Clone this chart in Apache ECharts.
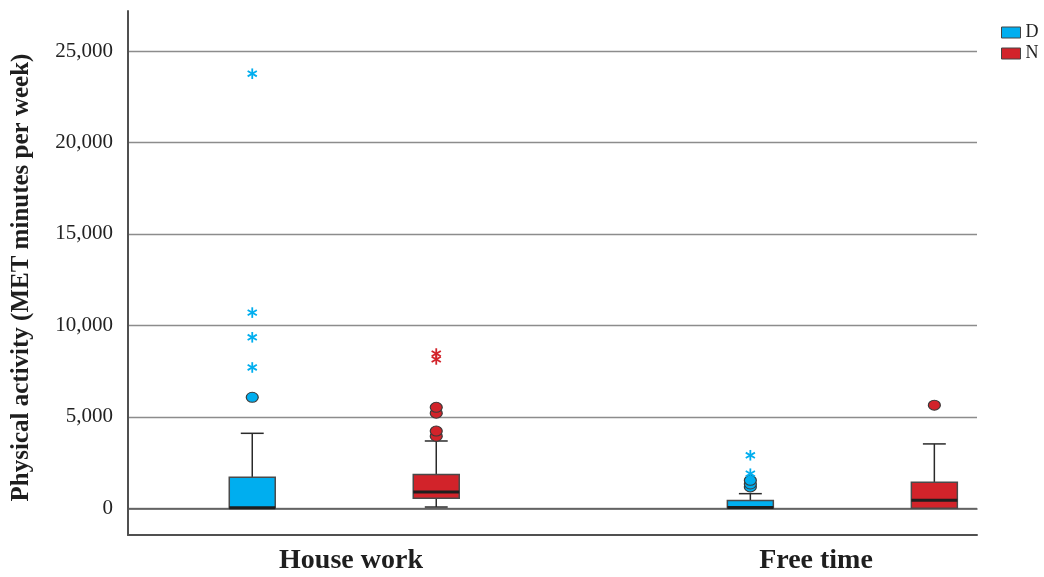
<!DOCTYPE html>
<html>
<head>
<meta charset="utf-8">
<script src="https://cdn.jsdelivr.net/npm/echarts@6/dist/echarts.min.js"></script>
<style>html,body{margin:0;padding:0;background:#fff}#c{width:1044px;height:577px}</style>
</head>
<body>
<div id="c"></div>
<script>
// ---- data ----
const categories = ['House work', 'Free time'];
const groups = ['D', 'N'];
// [min, Q1, median, Q3, max] per category
const dBox = [[0, 0, 30, 1700, 4100], [0, 0, 40, 420, 800]];
const nBox = [[70, 555, 890, 1850, 3680], [0, 0, 440, 1420, 3520]];
// [categoryIndex, value]
const dOutliers = [[0, 6070], [1, 1170], [1, 1330], [1, 1530]];
const dExtremes = [[0, 7700], [0, 9350], [0, 10700], [0, 23760], [1, 1890], [1, 2900]];
const nOutliers = [[0, 3940], [0, 4220], [0, 5200], [0, 5520], [1, 5640]];
const nExtremes = [[0, 8140], [0, 8460]];
const yTicks = [0, 5000, 10000, 15000, 20000, 25000];
const yTitle = 'Physical activity (MET minutes per week)';

// ---- styles ----
const colors = { D: '#00AEEF', N: '#D2232A' };
const SERIF = '"Liberation Serif", "DejaVu Serif", serif';
const OFFSET = 0.1847, BOXW = 0.0923, CAPW = 0.046;
const Y_MIN = -1460, Y_MAX = 27190;

function boxRender(sign, color) {
  return function (params, api) {
    const cat = api.value(0);
    const band = api.size([1, 0])[0];
    const cx = api.coord([cat, 0])[0] + sign * band * OFFSET;
    const bw = band * BOXW, cw = band * CAPW;
    const y = v => api.coord([cat, v])[1];
    const vmin = api.value(1), vq1 = api.value(2), vmed = api.value(3), vq3 = api.value(4), vmax = api.value(5);
    const mn = y(vmin), q1 = y(vq1), md = y(vmed), q3 = y(vq3), mx = y(vmax);
    const ws = { stroke: '#2a2a2a', lineWidth: 1.5 };
    const ch = [];
    ch.push({ type: 'line', shape: { x1: cx, y1: q3, x2: cx, y2: mx }, style: ws });
    ch.push({ type: 'line', shape: { x1: cx - cw / 2, y1: mx, x2: cx + cw / 2, y2: mx }, style: ws });
    if (vmin < vq1) {
      ch.push({ type: 'line', shape: { x1: cx, y1: q1, x2: cx, y2: mn }, style: ws });
      ch.push({ type: 'line', shape: { x1: cx - cw / 2, y1: mn, x2: cx + cw / 2, y2: mn }, style: ws });
    }
    ch.push({ type: 'rect', shape: { x: cx - bw / 2, y: q3, width: bw, height: q1 - q3 },
      style: { fill: color, stroke: '#4a4a4a', lineWidth: 1.5 } });
    ch.push({ type: 'line', shape: { x1: cx - bw / 2, y1: md, x2: cx + bw / 2, y2: md },
      style: { stroke: '#1e1e1e', lineWidth: 3 } });
    return { type: 'group', children: ch };
  };
}
function pointRender(sign, color, kind) {
  return function (params, api) {
    const cat = api.value(0);
    const band = api.size([1, 0])[0];
    const p = api.coord([cat, api.value(1)]);
    const cx = p[0] + sign * band * OFFSET, cy = p[1];
    if (kind === 'circle') {
      return { type: 'circle', x: cx, y: cy, scaleX: 1.2, shape: { cx: 0, cy: 0, r: 5 },
        style: { fill: color, stroke: '#3a3a3a', lineWidth: 1 } };
    }
    const r = 5.3, ch = [];
    [90, 30, -30].forEach(a => {
      const t = a * Math.PI / 180, dx = r * Math.cos(t), dy = r * Math.sin(t);
      ch.push({ type: 'line', shape: { x1: cx - dx, y1: cy - dy, x2: cx + dx, y2: cy + dy },
        style: { stroke: color, lineWidth: 1.8 } });
    });
    return { type: 'group', children: ch };
  };
}

const boxSets = { D: dBox, N: nBox };
const outSets = { D: dOutliers, N: nOutliers };
const extSets = { D: dExtremes, N: nExtremes };
const series = [];
groups.forEach((g, gi) => {
  const sign = gi === 0 ? -1 : 1;
  series.push({ type: 'custom', name: g, xAxisIndex: 2, yAxisIndex: 1, z: 3, clip: false,
    itemStyle: { color: colors[g] }, encode: { x: 0, y: [1, 2, 3, 4, 5] },
    renderItem: boxRender(sign, colors[g]),
    data: boxSets[g].map((b, i) => [i].concat(b)) });
});
groups.forEach((g, gi) => {
  const sign = gi === 0 ? -1 : 1;
  series.push({ type: 'custom', name: g, xAxisIndex: 2, yAxisIndex: 1, z: 4, clip: false,
    itemStyle: { color: colors[g] }, encode: { x: 0, y: 1 },
    renderItem: pointRender(sign, colors[g], 'circle'), data: outSets[g] });
  series.push({ type: 'custom', name: g, xAxisIndex: 2, yAxisIndex: 1, z: 4, clip: false,
    itemStyle: { color: colors[g] }, encode: { x: 0, y: 1 },
    renderItem: pointRender(sign, colors[g], 'star'), data: extSets[g] });
});

const chart = echarts.init(document.getElementById('c'), null, { renderer: 'canvas' });
chart.setOption({
  animation: false,
  backgroundColor: '#fff',
  legend: {
    orient: 'vertical', left: 996, top: 18.5, itemWidth: 19, itemHeight: 11, itemGap: 3,
    data: groups.map(g => ({ name: g, icon: 'rect' })),
    itemStyle: { borderColor: '#444', borderWidth: 1 },
    textStyle: { fontFamily: SERIF, fontSize: 18, color: '#222', lineHeight: 17 }
  },
  grid: [
    { left: 128, top: 11, right: 67, bottom: 42 },
    { left: 344.25, top: 11, right: 201.65, bottom: 42 }
  ],
  xAxis: [
    { type: 'category', gridIndex: 0, data: categories, position: 'bottom',
      axisLine: { onZero: false, lineStyle: { color: '#505050', width: 2 } },
      axisTick: { show: false }, axisLabel: { show: false }, splitLine: { show: false } },
    { type: 'category', gridIndex: 0, data: categories, position: 'bottom',
      axisLine: { onZero: true, lineStyle: { color: '#555', width: 1.5 } },
      axisTick: { show: false }, axisLabel: { show: false }, splitLine: { show: false } },
    { type: 'category', gridIndex: 1, data: categories, position: 'bottom', boundaryGap: false,
      axisLine: { show: false, onZero: false }, axisTick: { show: false }, splitLine: { show: false },
      axisLabel: {
        margin: 12, fontFamily: SERIF, fontWeight: 'bold', fontSize: 28, color: '#1e1e1e',
        formatter: v => '{' + (v === categories[0] ? 'a' : 'b') + '|' + v + '}',
        rich: {
          a: { fontFamily: SERIF, fontWeight: 'bold', fontSize: 28, color: '#1e1e1e', padding: [0, 0, 0, 13.5] },
          b: { fontFamily: SERIF, fontWeight: 'bold', fontSize: 28, color: '#1e1e1e', padding: [0, 52.7, 0, 0] }
        }
      } }
  ],
  yAxis: [
    { type: 'value', gridIndex: 0, min: Y_MIN, max: Y_MAX, splitNumber: 5,
      name: yTitle, nameLocation: 'middle', nameGap: 94, nameRotate: 90,
      nameTextStyle: { fontFamily: SERIF, fontWeight: 'bold', fontSize: 25, color: '#1e1e1e', padding: [0, 9, 0, 0] },
      axisLine: { show: true, lineStyle: { color: '#505050', width: 2 } },
      axisTick: { show: false },
      axisLabel: { margin: 15, fontFamily: SERIF, fontSize: 21, color: '#222', padding: [8, 0, 0, 0],
        showMinLabel: false, showMaxLabel: false,
        formatter: v => yTicks.indexOf(v) >= 0 ? v.toLocaleString('en-US') : '' },
      splitLine: { show: true, showMinLine: false, showMaxLine: false, lineStyle: { color: '#8c8c8c', width: 1.3 } } },
    { type: 'value', gridIndex: 1, min: Y_MIN, max: Y_MAX, show: false, splitLine: { show: false } }
  ],
  series: series
});
</script>
</body>
</html>
